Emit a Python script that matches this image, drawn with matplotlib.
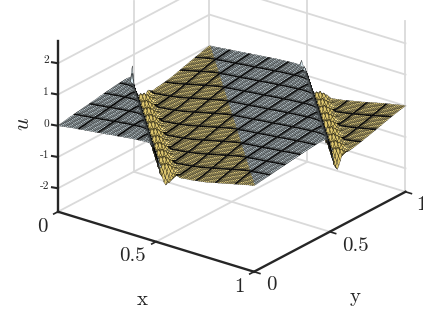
import numpy as np
import matplotlib
matplotlib.use("Agg")
import matplotlib.pyplot as plt
from mpl_toolkits.mplot3d import proj3d

W, H = 423, 317
plt.rcParams["font.family"] = ["cmr10", "DejaVu Serif"]
plt.rcParams["mathtext.fontset"] = "cm"
plt.rcParams["axes.formatter.use_mathtext"] = True

# u along the diagonal, index k = i + j on the 101 x 101 mesh (x + y = k / 100)
u_wedge_left = [
    0.00, 0.01, 0.02, 0.03, 0.04, 0.05, 0.06, 0.07, 0.08, 0.08,
    0.09, 0.10, 0.11, 0.12, 0.12, 0.13, 0.14, 0.15, 0.16, 0.16,
    0.17, 0.18, 0.19, 0.20, 0.20, 0.21, 0.22, 0.23, 0.24, 0.24,
    0.25, 0.26, 0.27, 0.28, 0.28, 0.29, 0.30, 0.31, 0.32, 0.32,
    0.33, 0.33, 0.34, 0.34, 0.35, 0.35, 0.35, 0.34, 0.30, 0.22,
]
u_middle = [
    0.05, -0.15, -0.35, -0.50, -0.54, -0.54, -0.53, -0.52, -0.51, -0.50,
    -0.49, -0.48, -0.47, -0.47, -0.46, -0.45, -0.44, -0.44, -0.43, -0.42,
    -0.41, -0.40, -0.39, -0.38, -0.37, -0.36, -0.35, -0.33, -0.32, -0.30,
    -0.29, -0.27, -0.26, -0.24, -0.23, -0.21, -0.20, -0.18, -0.17, -0.15,
    -0.14, -0.12, -0.11, -0.09, -0.08, -0.06, -0.05, -0.03, -0.02, -0.01,
    0.00, 0.01, 0.01, 0.02, 0.03, 0.04, 0.04, 0.05, 0.06, 0.06,
    0.07, 0.08, 0.08, 0.09, 0.10, 0.11, 0.11, 0.12, 0.13, 0.13,
    0.14, 0.15, 0.15, 0.16, 0.17, 0.18, 0.18, 0.19, 0.20, 0.20,
    0.21, 0.22, 0.22, 0.23, 0.24, 0.24, 0.25, 0.25, 0.26, 0.26,
    0.27, 0.27, 0.28, 0.28, 0.28, 0.28, 0.28, 0.27, 0.24, 0.18,
]
u_wedge_right = [
    0.05, -0.18, -0.38, -0.52, -0.58, -0.58, -0.57, -0.56, -0.55, -0.53,
    -0.52, -0.50, -0.49, -0.48, -0.47, -0.46, -0.45, -0.44, -0.43, -0.42,
    -0.40, -0.39, -0.38, -0.36, -0.35, -0.34, -0.32, -0.31, -0.30, -0.28,
    -0.27, -0.25, -0.24, -0.22, -0.21, -0.19, -0.18, -0.16, -0.15, -0.13,
    -0.12, -0.11, -0.09, -0.08, -0.07, -0.06, -0.04, -0.03, -0.02, -0.01,
    0.00,
]
# bumps next to the two shocks: size by distance from the shock, shape along it
ripple_across = [0.0, 0.0, 0.10, 0.20, 0.28, 0.30, 0.28, 0.24, 0.20, 0.15, 0.10, 0.06, 0.03]
ripple_along = [1.0, 0.7, 0.2, -0.4, -0.8, -1.0, -0.8, -0.4, 0.2, 0.7]
# mesh i, mesh j, u
spike_i = [0, 3, 47, 50, 70, 74, 78]
spike_j = [49, 45, 100, 98, 82, 80, 76]
spike_u = [0.66, 0.58, 0.44, 0.34, -0.95, -0.90, -1.00]

z_ticks = [-2, -1, 0, 1, 2]
z_tick_labels = ["-2", "-1", "0", "1", "2"]
xy_ticks = [0, 0.5, 1]
xy_tick_labels = ["0", "0.5", "1"]
z_min, z_max = -2.75, 2.70

u_profile = np.array(u_wedge_left + u_middle + u_wedge_right)
grid = np.arange(101)
I, J = np.meshgrid(grid, grid, indexing="ij")
K = I + J
U = u_profile[K]
for start in [50, 150]:
    near = (K >= start) & (K < start + len(ripple_across))
    U[near] += (np.array(ripple_across)[K[near] - start]
                * np.array(ripple_along)[(I[near] - J[near]) % 10])
U[spike_i, spike_j] = spike_u
X, Y = I / 100, J / 100

# two colour map, grey down the cliff faces, gold behind them
gold = ((K > 51) & (K < 100)) | (K > 151)
cliff = ((K > 46) & (K < 60)) | ((K > 146) & (K < 160))
colors = np.zeros(U.shape + (3,))
colors[gold] = matplotlib.colors.to_rgb("#fbe489")
colors[~gold] = matplotlib.colors.to_rgb("#d6e6ec")
colors[gold & cliff] = matplotlib.colors.to_rgb("#dcc56e")
# dark cells for the element lines, softer on one side, none on the cliffs
soft = ((I % 10 == 1) & (I > 1)) | ((J % 10 == 1) & (J > 1))
colors[soft & ~cliff] *= 0.65
band = ((I % 10 == 0) & (I > 0)) | ((J % 10 == 0) & (J > 0))
colors[band & ~cliff] = (0, 0, 0)

fig = plt.figure(figsize=(W / 100, H / 100), dpi=100)
ax = fig.add_axes([0, 0, W / W, W / H], projection="3d")
ax.set_proj_type("ortho")
ax.view_init(elev=23.7, azim=-52.7)
ax.set_xlim(0, 1, view_margin=0)
ax.set_ylim(0, 1, view_margin=0)
ax.set_zlim(z_min, z_max, view_margin=0)
ax.set_axis_off()
ax.computed_zorder = False
box = (246.4, 250.0, 186.0)
ax.set_box_aspect(box)


def to_px(x, y, z):
    ax.apply_aspect()
    px, py, _ = proj3d.proj_transform(x, y, z, ax.get_proj())
    return ax.transData.transform((px, py))


# fit the box on the pixels of the reference: origin (58, 211.7), x end at 254 px
span = to_px(1, 0, z_min)[0] - to_px(0, 0, z_min)[0]
ax.set_box_aspect(box, zoom=196.0 / span)
origin = to_px(0, 0, z_min)
ax.set_position([(58 - origin[0]) / W, (H - 211.7 - origin[1]) / H, W / W, W / H])

grid_c = "#dadada"
for z in z_ticks:
    ax.plot([0, 0, 1], [0, 1, 1], [z, z, z], color=grid_c, lw=1.3, zorder=1)
ax.plot([0, 0, 1], [0, 1, 1], [z_min] * 3, color=grid_c, lw=1.3, zorder=1)
ax.plot([0, 1], [0.5, 0.5], [z_min, z_min], color=grid_c, lw=1.3, zorder=1)
ax.plot([0.5, 0.5], [0, 1], [z_min, z_min], color=grid_c, lw=1.3, zorder=1)
for x, y in [(0, 0.5), (0, 1), (0.5, 1), (1, 1)]:
    ax.plot([x, x], [y, y], [z_min, z_max], color=grid_c, lw=1.3, zorder=1)

ax.plot_surface(X, Y, U, facecolors=colors, rstride=1, cstride=1, shade=False,
                edgecolor="k", linewidth=0.2, zorder=2)

dark = "#262626"
ax.plot([0, 0], [0, 0], [z_min, z_max], color=dark, lw=1.7, zorder=3)
ax.plot([0, 1], [0, 0], [z_min, z_min], color=dark, lw=1.7, zorder=3)
ax.plot([1, 1], [0, 1], [z_min, z_min], color=dark, lw=1.7, zorder=3)
for z in z_ticks:
    ax.plot([0, -0.0255], [0, -0.0066], [z, z], color=dark, lw=1.5, zorder=3)
for t in xy_ticks:
    ax.plot([t, t], [0, -0.028], [z_min, z_min], color=dark, lw=1.2, zorder=3)
    ax.plot([1, 1.03], [t, t], [z_min, z_min], color=dark, lw=1.2, zorder=3)


def label(px, py, text, size, **kw):
    fig.text(px / W, 1 - py / H, text, fontsize=size, ha=kw.pop("ha", "center"),
             va="center", color="#262626", **kw)


for lab, py in zip(z_tick_labels, [186, 155, 124, 92, 60]):
    label(49, py, lab, 8.2, ha="right")
for lab, (px, py) in zip(xy_tick_labels, [(42, 227), (132, 256), (239, 287)]):
    label(px, py, lab, 15)
for lab, (px, py) in zip(xy_tick_labels, [(271, 285), (355, 246), (421, 205)]):
    label(px, py, lab, 15)
label(142, 300, "x", 15)
label(355, 297, "y", 15)
label(23, 124, "$u$", 16, rotation=90)

fig.savefig("out.png", dpi=100)
